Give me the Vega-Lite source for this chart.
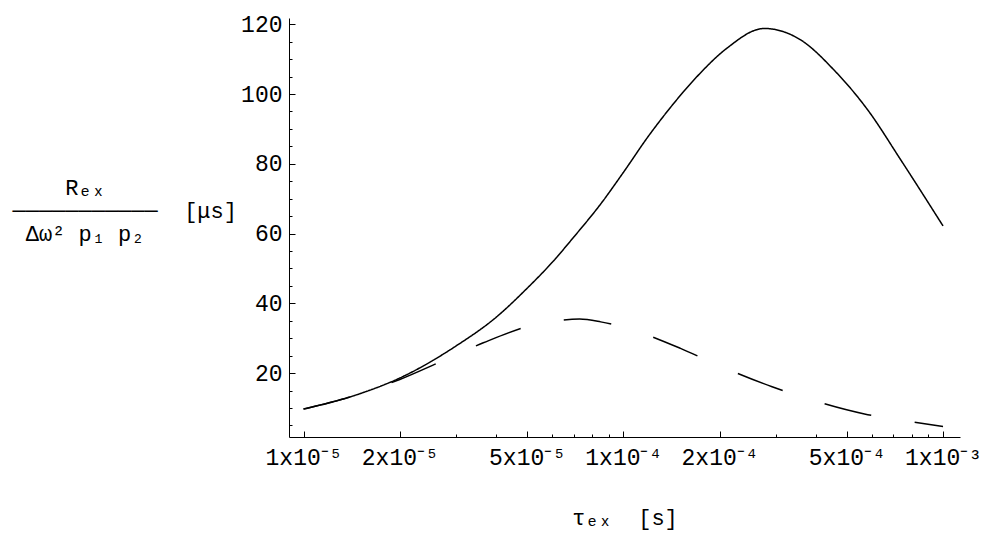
{
  "$schema": "https://vega.github.io/schema/vega-lite/v6.json",
  "width": 671,
  "height": 419,
  "autosize": {"type": "none"},
  "padding": {"left": 289, "top": 18, "right": 37, "bottom": 96},
  "background": "white",
  "config": {
    "view": {"stroke": null},
    "axis": {
      "grid": false,
      "domainColor": "black",
      "domainWidth": 1,
      "tickColor": "black",
      "tickWidth": 1,
      "labelColor": "black",
      "labelFont": "Liberation Mono",
      "labelFontSize": 23,
      "labelOverlap": false,
      "labelFlush": false,
      "labelBound": false,
      "titleColor": "black",
      "titleFont": "Liberation Mono",
      "titleFontWeight": "normal"
    }
  },
  "data": {
    "values": [
      {"series": "solid", "tau": 0.00001, "value": 9.7},
      {"series": "solid", "tau": 0.000015, "value": 14.1},
      {"series": "solid", "tau": 0.00002, "value": 18.6},
      {"series": "solid", "tau": 0.00003, "value": 27.8},
      {"series": "solid", "tau": 0.00004, "value": 36.0},
      {"series": "solid", "tau": 0.00005, "value": 44.3},
      {"series": "solid", "tau": 0.00006, "value": 51.8},
      {"series": "solid", "tau": 0.00007, "value": 59.0},
      {"series": "solid", "tau": 0.000085, "value": 68.5},
      {"series": "solid", "tau": 0.0001, "value": 77.5},
      {"series": "solid", "tau": 0.00012, "value": 88.0},
      {"series": "solid", "tau": 0.00014, "value": 96.0},
      {"series": "solid", "tau": 0.00017, "value": 105.0},
      {"series": "solid", "tau": 0.00021, "value": 113.0},
      {"series": "solid", "tau": 0.000276, "value": 118.8},
      {"series": "solid", "tau": 0.000359, "value": 115.5},
      {"series": "solid", "tau": 0.000456, "value": 106.9},
      {"series": "solid", "tau": 0.000582, "value": 95.4},
      {"series": "solid", "tau": 0.000738, "value": 81.1},
      {"series": "solid", "tau": 0.001, "value": 62.2},
      {"series": "dashed", "tau": 0.00001, "value": 9.7},
      {"series": "dashed", "tau": 0.0000148, "value": 13.9},
      {"series": "dashed", "tau": 0.00002, "value": 18.2},
      {"series": "dashed", "tau": 0.0000267, "value": 23.2},
      {"series": "dashed", "tau": 0.0000365, "value": 28.7},
      {"series": "dashed", "tau": 0.0000509, "value": 33.5},
      {"series": "dashed", "tau": 0.000062, "value": 35.0},
      {"series": "dashed", "tau": 0.000073, "value": 35.5},
      {"series": "dashed", "tau": 0.000085, "value": 34.7},
      {"series": "dashed", "tau": 0.0001, "value": 33.2},
      {"series": "dashed", "tau": 0.000151, "value": 27.1},
      {"series": "dashed", "tau": 0.00019, "value": 23.0},
      {"series": "dashed", "tau": 0.000211, "value": 21.2},
      {"series": "dashed", "tau": 0.000292, "value": 16.1},
      {"series": "dashed", "tau": 0.000405, "value": 11.8},
      {"series": "dashed", "tau": 0.000568, "value": 8.3},
      {"series": "dashed", "tau": 0.000714, "value": 6.8},
      {"series": "dashed", "tau": 0.001, "value": 4.7}
    ]
  },
  "mark": {"type": "line", "color": "black", "strokeWidth": 1.5, "interpolate": "monotone"},
  "encoding": {
    "x": {
      "field": "tau",
      "type": "quantitative",
      "scale": {"type": "log", "domain": [0.000009007, 0.00113], "nice": false},
      "axis": {
        "values": [0.00001, 0.00002, 0.00003, 0.00004, 0.00005, 0.00006, 0.00007, 0.00008, 0.00009, 0.0001, 0.0002, 0.0003, 0.0004, 0.0005, 0.0006, 0.0007, 0.0008, 0.0009, 0.001],
        "labelExpr": "datum.value == 0.00001 ? '1x10⁻⁵' : datum.value == 0.00002 ? '2x10⁻⁵' : datum.value == 0.00005 ? '5x10⁻⁵' : datum.value == 0.0001 ? '1x10⁻⁴' : datum.value == 0.0002 ? '2x10⁻⁴' : datum.value == 0.0005 ? '5x10⁻⁴' : datum.value == 0.001 ? '1x10⁻³' : ''",
        "tickSize": {"condition": {"test": "indexof([0.00001, 0.00002, 0.00005, 0.0001, 0.0002, 0.0005, 0.001], datum.value) >= 0", "value": -6}, "value": -3},
        "labelPadding": 15,
        "title": "τₑₓ\u00a0\u00a0[s]",
        "titleFontSize": 22,
        "titleBaseline": "middle",
        "titleY": 80
      }
    },
    "y": {
      "field": "value",
      "type": "quantitative",
      "scale": {"domain": [1.7, 121.8], "nice": false, "zero": false},
      "axis": {
        "values": [5, 10, 15, 20, 25, 30, 35, 40, 45, 50, 55, 60, 65, 70, 75, 80, 85, 90, 95, 100, 105, 110, 115, 120],
        "labelExpr": "datum.value % 20 == 0 ? datum.label : ''",
        "tickSize": {"condition": {"test": "datum.value % 20 == 0", "value": -6}, "value": -3},
        "labelPadding": 13,
        "title": ["\u200b\u00a0\u00a0\u00a0\u00a0Rₑₓ", "───────────\u00a0\u00a0[μs]", "\u200b\u00a0Δω²\u00a0p₁\u00a0p₂"],
        "titleAngle": 0,
        "titleAlign": "left",
        "titleBaseline": "top",
        "titleFontSize": 22,
        "titleLineHeight": 23,
        "titleX": -277,
        "titleY": 159
      }
    },
    "strokeDash": {
      "field": "series",
      "type": "nominal",
      "scale": {"domain": ["solid", "dashed"], "range": [[1, 0], [48, 44]]},
      "legend": null
    }
  }
}
